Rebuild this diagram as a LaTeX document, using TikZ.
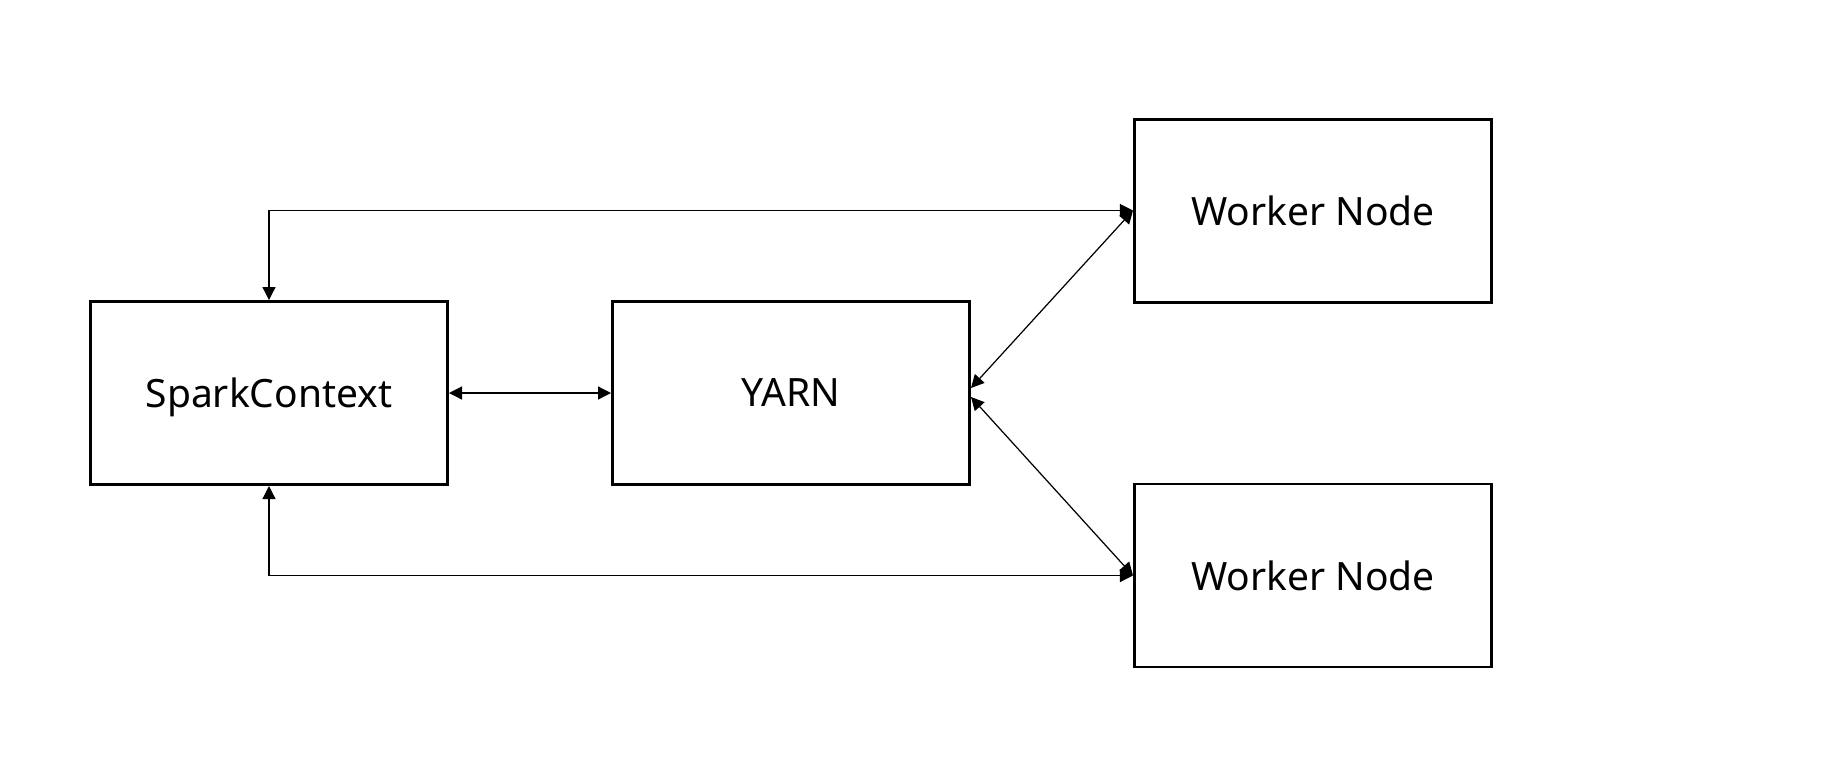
\documentclass[tikz,border=0pt]{standalone}
\usepackage{fontspec}
\setmainfont{Noto Sans}
\usetikzlibrary{arrows.meta,positioning}

\begin{document}
\begin{tikzpicture}[
  node distance=1.62cm,
  box/.style={draw, line width=0.85pt, align=center, minimum width=3.57cm, minimum height=1.83cm, inner sep=0pt, text depth=0pt, font=\fontsize{11.1}{14}\selectfont},
  arrow/.style={{Triangle[length=3.7pt,width=3.7pt]}-{Triangle[length=3.7pt,width=3.7pt]}, line width=0.35pt}
]
\useasboundingbox (0,0) rectangle (18.22,7.58);
\node[box] (spark) at (2.69,3.65) {SparkContext};
\node[box, right=of spark] (yarn) {YARN};
\node[box, right=1.62cm of yarn.north east, anchor=south west, yshift=-0.035cm] (worker1) {Worker Node};
\node[box, right=1.62cm of yarn.south east, anchor=north west, yshift=0.035cm] (worker2) {Worker Node};

\draw[arrow] (spark.north) |- (worker1.west);
\draw[arrow] (spark.south) |- (worker2.west);
\draw[arrow] (spark) -- (yarn);
\draw[arrow] ([yshift=0.5mm]yarn.east) -- (worker1.west);
\draw[arrow] ([yshift=-0.4mm]yarn.east) -- (worker2.west);
\end{tikzpicture}
\end{document}
